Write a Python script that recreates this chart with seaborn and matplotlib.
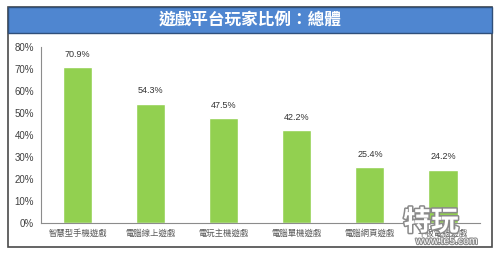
import matplotlib
matplotlib.use("Agg")
import matplotlib.pyplot as plt
import matplotlib.patheffects as pe
from matplotlib.patches import Rectangle
import seaborn as sns
import pandas as pd

# Share of players by game platform (%)
categories = ["智慧型手機遊戲", "電腦線上遊戲", "電玩主機遊戲", "電腦單機遊戲", "電腦網頁遊戲", "平板電腦遊戲"]
shares = [70.9, 54.3, 47.5, 42.2, 25.4, 24.2]
y_ticks = [0, 10, 20, 30, 40, 50, 60, 70, 80]
title = "遊戲平台玩家比例：總體"

sns.set_theme(style="white")
plt.rcParams["font.family"] = ["Noto Sans CJK TC", "DejaVu Sans"]

df = pd.DataFrame({"platform": categories, "share": shares})

fig = plt.figure(figsize=(5.0, 2.57), dpi=100)
fig.patch.set_facecolor("white")

# outer frame and title band
fig.patches.append(Rectangle((0.016, 0.039), 0.968, 0.934, transform=fig.transFigure,
                             facecolor="none", edgecolor="#4a4a4a", linewidth=1.2, zorder=0))
fig.patches.append(Rectangle((0.016, 0.872), 0.968, 0.101, transform=fig.transFigure,
                             facecolor="#4f86d0", edgecolor="#2f4f7a", linewidth=1.0, zorder=1))
fig.text(0.5, 0.922, title, ha="center", va="center", color="white",
         fontsize=12, fontweight="bold")

ax = fig.add_axes([0.082, 0.1323, 0.877, 0.685])
ax.set_zorder(3)
ax.set_facecolor("none")
sns.barplot(data=df, x="platform", y="share", color="#92d050", width=0.4,
            saturation=1, ax=ax)

ax.set_xlim(-0.5, 5.5)
ax.set_ylim(0, 80)
ax.set_yticks(y_ticks)
ax.set_yticklabels([f"{v}%" for v in y_ticks], fontsize=7, color="#404040",
                   family=["Liberation Sans", "DejaVu Sans"])
ax.tick_params(axis="y", length=0, pad=5)
ax.tick_params(axis="x", length=0, pad=4, labelsize=6, labelcolor="#595959")
ax.set_xlabel("")
ax.set_ylabel("")
for side in ("top", "right"):
    ax.spines[side].set_visible(False)
for side in ("left", "bottom"):
    ax.spines[side].set_color("#8c8c8c")
    ax.spines[side].set_linewidth(0.8)

for i, v in enumerate(shares):
    ax.annotate(f"{v}%", (i, v), xytext=(0, 6), textcoords="offset points",
                ha="center", va="bottom", fontsize=6.5, color="#333333",
                family=["Liberation Sans", "DejaVu Sans"])

# site watermark in the lower right corner
stroke = [pe.withStroke(linewidth=2.2, foreground="#8a8a8a")]
fig.text(0.862, 0.135, "特玩", ha="center", va="center", fontsize=20,
         fontweight="bold", color="white", path_effects=stroke, zorder=5)
fig.text(0.893, 0.062, "www.te5.com", ha="center", va="center", fontsize=7.5,
         color="white", path_effects=[pe.withStroke(linewidth=1.5, foreground="#8a8a8a")],
         zorder=5, family=["Liberation Sans", "DejaVu Sans"])

fig.savefig("out.png", dpi=100)
